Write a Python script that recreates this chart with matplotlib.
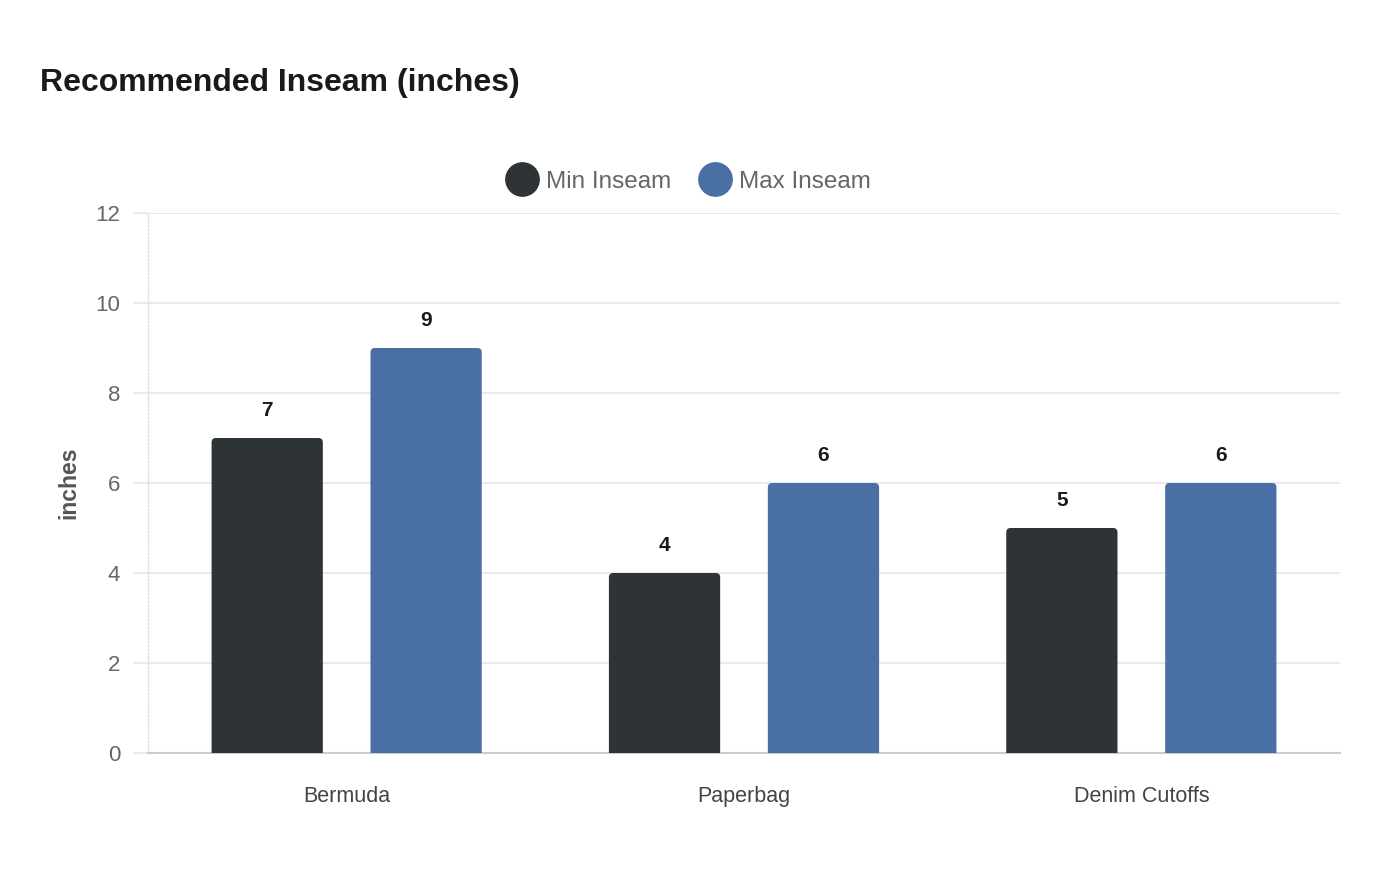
import numpy as np
import matplotlib.pyplot as plt
from matplotlib.patches import FancyBboxPatch
from matplotlib.lines import Line2D

plt.rcParams['font.family'] = ['Liberation Sans', 'DejaVu Sans']

# Data
categories = ['Bermuda', 'Paperbag', 'Denim Cutoffs']
min_inseam = [7, 4, 5]
max_inseam = [9, 6, 6]
series_names = ['Min Inseam', 'Max Inseam']
colors = ['#2e3436', '#4a6fa5']

fig = plt.figure(figsize=(14, 8.8), dpi=100)
ax = fig.add_axes([148 / 1400, 1 - 753 / 880, (1340 - 148) / 1400, (753 - 213) / 880])

x = np.arange(len(categories))
bar_w = 0.28
offsets = [-0.2, 0.2]

for vals, off, col in zip([min_inseam, max_inseam], offsets, colors):
    for xi, v in zip(x, vals):
        # rounded top corners; bottom part hidden below y=0
        p = FancyBboxPatch((xi + off - bar_w / 2, -0.5), bar_w, v + 0.5,
                           boxstyle='round,pad=0,rounding_size=0.011',
                           mutation_aspect=8.8, facecolor=col,
                           edgecolor='none', zorder=3)
        ax.add_patch(p)
        ax.annotate(f'{v}', xy=(xi + off, v), xytext=(0, 13),
                    textcoords='offset points', ha='center', va='bottom',
                    fontsize=15, fontweight='bold', color='#1a1a1a')

ax.set_xlim(-0.5, len(categories) - 0.5)
ax.set_ylim(0, 12)
ax.set_yticks(range(0, 13, 2))
ax.set_xticks(x)
ax.set_xticklabels(categories, fontsize=15.5, color='#444444')
ax.tick_params(axis='y', labelsize=16, labelcolor='#666666', length=11,
               color='#e6e6e6', width=1.2, pad=9)
ax.tick_params(axis='x', length=0, pad=24)

ax.grid(axis='y', color='#e6e6e6', linewidth=1.2, zorder=0)
ax.set_axisbelow(True)
for s in ['top', 'right']:
    ax.spines[s].set_visible(False)
ax.spines['left'].set_color('#dddddd')
ax.spines['left'].set_linestyle(':')
ax.spines['left'].set_linewidth(1)
ax.spines['bottom'].set_color('#cccccc')
ax.spines['bottom'].set_linewidth(1.5)

ax.set_ylabel('inches', fontsize=16.5, fontweight='bold', color='#555555', labelpad=11)

fig.text(40 / 1400, 1 - 83 / 880, 'Recommended Inseam (inches)', fontsize=23,
         fontweight='bold', color='#1a1a1a', ha='left', va='center')

handles = [Line2D([], [], marker='o', linestyle='none', markersize=24,
                  markerfacecolor=c, markeredgecolor=c) for c in colors]
fig.legend(handles, series_names, loc='center', bbox_to_anchor=(688 / 1400, 1 - 182 / 880),
           ncol=2, frameon=False, fontsize=17.5, labelcolor='#666666',
           handletextpad=0.3, columnspacing=1.1, handlelength=1.4)

fig.savefig('out.png', dpi=100)
